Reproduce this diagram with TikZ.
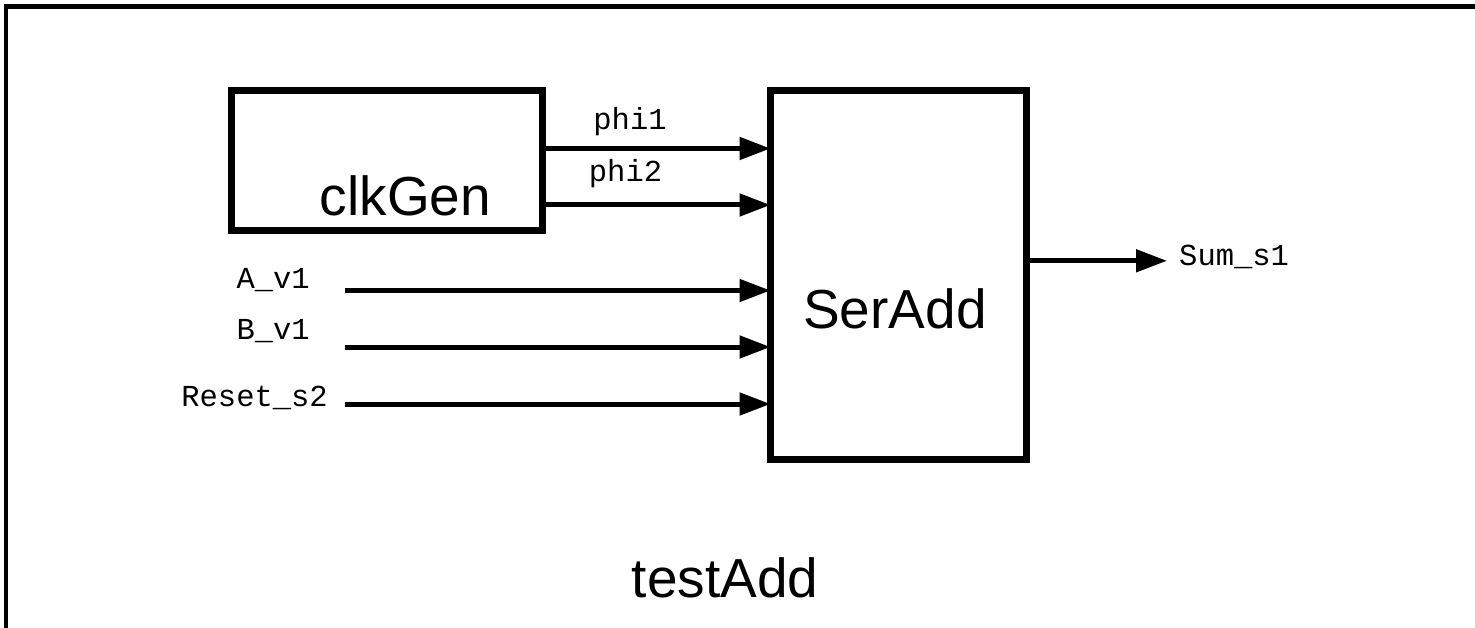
\documentclass[tikz,border=0pt]{standalone}
\usepackage{fontspec}
\setmainfont{Liberation Sans}
\newfontfamily\monof{Liberation Mono}
\usetikzlibrary{arrows.meta}
\begin{document}
\begin{tikzpicture}[x=1pt,y=-1pt,
  blockbox/.style={draw, line width=7pt, inner sep=0pt, outer sep=0pt},
  bigtext/.style={font=\fontsize{55}{66}\selectfont, inner sep=0pt, anchor=base},
  sigtext/.style={font=\monof\fontsize{30.5}{36}\selectfont, inner sep=0pt},
  sig/.style={line width=5pt, -{Triangle[length=31pt,width=22pt]}},
  frameline/.style={line width=4.5pt, line join=miter}]
\useasboundingbox (0,0) rectangle (1475,628);
% outer frame
\draw[frameline] (6,640) -- (6,6.3) -- (1490,6.3);
% blocks
\node[blockbox, minimum width=311pt, minimum height=140.5pt] (clk) at (387.4,160.75) {};
\node[blockbox, minimum width=256pt, minimum height=369pt] (ser) at (898.5,275) {};
\node[bigtext] (clkt) at (405.5,216) {clkGen};
\node[bigtext] (sert) at (895,328) {SerAdd};
\node[bigtext] (testt) at (725,597) {testAdd};
% clock signals
\coordinate (p1) at (543,148.5);
\coordinate (p2) at (543,205);
\draw[sig] (p1) -- (p1 -| ser.west);
\draw[sig] (p2) -- (p2 -| ser.west);
\node[sigtext, anchor=base] (phione) at (630,129.3) {phi1};
\node[sigtext, anchor=base] (phitwo) at (625.5,181.7) {phi2};
% inputs
\coordinate (ain) at (345,290.5);
\coordinate (bin) at (345,347);
\coordinate (rin) at (345,404);
\draw[sig] (ain) -- (ain -| ser.west);
\draw[sig] (bin) -- (bin -| ser.west);
\draw[sig] (rin) -- (rin -| ser.west);
\node[sigtext, anchor=base east] (alab) at (310,289) {A\_v1};
\node[sigtext, anchor=base east] (blab) at (310,339) {B\_v1};
\node[sigtext, anchor=base east] (rlab) at (328,406) {Reset\_s2};
% output
\coordinate (sout) at (1167,260.8);
\draw[sig] (ser.east |- sout) -- (sout);
\node[sigtext, anchor=base west] (slab) at (1179,266) {Sum\_s1};
\end{tikzpicture}
\end{document}
